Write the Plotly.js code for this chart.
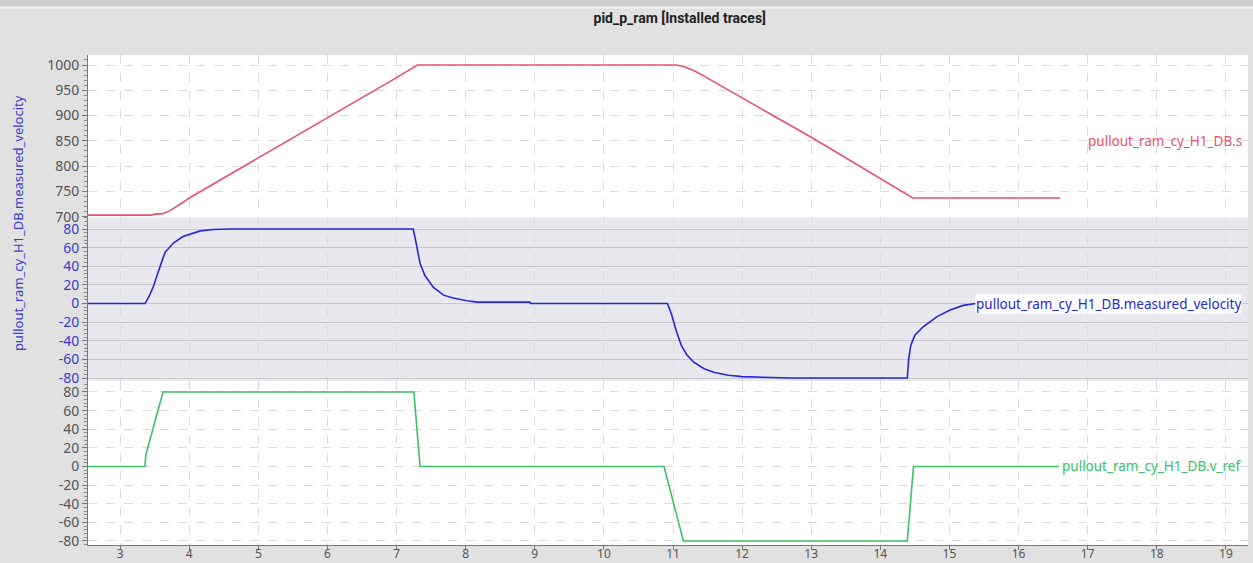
<!DOCTYPE html>
<html>
<head>
<meta charset="utf-8">
<script src="https://cdn.plot.ly/plotly-3.0.1.min.js"></script>
<style>html,body{margin:0;padding:0;background:#e1e1e1;}</style>
</head>
<body>
<div id="chart" style="width:1253px;height:563px;"></div>
<script>
// ---- data ----
const chartTitle = "pid_p_ram [Installed traces]";
const yAxisTitle = "pullout_ram_cy_H1_DB.measured_velocity";
const sName = "pullout_ram_cy_H1_DB.s";
const velName = "pullout_ram_cy_H1_DB.measured_velocity";
const refName = "pullout_ram_cy_H1_DB.v_ref";

const sTime  = [2.53, 3.45, 3.5, 3.62, 3.72, 3.82, 3.92, 4.0, 5.0, 6.0, 7.0, 7.3, 11.05, 11.15, 11.3, 11.45, 11.6, 11.8, 12.0, 13.0, 14.0, 14.47, 16.6];
const sValue = [703, 703, 705, 706, 712, 720, 729, 737, 816, 895, 975, 1000, 1000, 997, 989, 978, 966, 950, 935, 857, 776, 737, 737];

const velTime  = [2.53, 3.36, 3.42, 3.48, 3.56, 3.65, 3.77, 3.91, 4.16, 4.35, 4.6, 7.24, 7.27, 7.31, 7.34, 7.41, 7.53, 7.68, 7.82, 8.02, 8.17, 8.93, 8.94, 10.92, 10.98, 11.05, 11.12, 11.2, 11.3, 11.45, 11.6, 11.8, 12.0, 12.7, 14.39, 14.41, 14.44, 14.5, 14.62, 14.82, 15.01, 15.2, 15.32, 15.38];
const velValue = [0, 0, 8, 18, 36, 55, 65, 72, 78, 79.5, 80, 80, 70, 52, 43, 30, 17.5, 9, 6, 3, 1.5, 1.5, 0, 0, -12, -30, -45, -55, -63, -70, -74, -77, -78.5, -80, -80, -60, -45, -34, -25, -14, -7, -2, -0.5, 0];

const refTime  = [2.53, 3.36, 3.37, 3.62, 7.25, 7.34, 10.87, 11.15, 14.39, 14.48, 16.58];
const refValue = [0, 0, 12, 80, 80, 0, 0, -80, -80, 0, 0];

const xTicks = [3, 4, 5, 6, 7, 8, 9, 10, 11, 12, 13, 14, 15, 16, 17, 18, 19];
const sTicks = [700, 750, 800, 850, 900, 950, 1000];
const vTicks = [-80, -60, -40, -20, 0, 20, 40, 60, 80];

// ---- styles ----
const FONT = "Noto Sans, Open Sans, sans-serif";
const RED = "#e5526f", BLUE = "#2626dc", GREEN = "#3cc06a";
const GRID = "#dcdcdc";

const traces = [
  {x: sTime, y: sValue, name: sName, type: "scatter", mode: "lines", line: {color: RED, width: 1.6}, xaxis: "x", yaxis: "y"},
  {x: velTime, y: velValue, name: velName, type: "scatter", mode: "lines", line: {color: BLUE, width: 1.6}, xaxis: "x", yaxis: "y2"},
  {x: refTime, y: refValue, name: refName, type: "scatter", mode: "lines", line: {color: GREEN, width: 1.6}, xaxis: "x", yaxis: "y3"}
];

function yax(domain, range, ticks, color, gridcolor, griddash) {
  return {
    domain: domain, range: range, tickvals: ticks, ticktext: ticks.map(String),
    showgrid: true, gridcolor: gridcolor, griddash: griddash, gridwidth: 1,
    zeroline: false, showline: true, linecolor: "#777", linewidth: 1,
    ticks: "outside", ticklen: 5, tickcolor: "#777",
    minor: {ticks: "outside", ticklen: 3, tickcolor: "#888", dtick: (ticks[1]-ticks[0])/5, showgrid: false},
    tickfont: {family: FONT, size: 14, color: color},
    fixedrange: true
  };
}

const layout = {
  width: 1253, height: 563,
  margin: {l: 88, r: 5, t: 55, b: 18},
  paper_bgcolor: "#e1e1e1", plot_bgcolor: "#ffffff",
  showlegend: false,
  title: {text: "<b>" + chartTitle + "</b>", x: 0.5425, xanchor: "center", y: 0.968, yanchor: "middle",
          font: {family: "Roboto, sans-serif", size: 14, color: "#222"}},
  xaxis: {
    anchor: "y3", range: [2.535, 19.32], tickvals: xTicks, ticktext: xTicks.map(String),
    showgrid: true, gridcolor: GRID, griddash: "dash", zeroline: false,
    showline: true, linecolor: "#777", ticks: "outside", ticklen: 4, tickcolor: "#777",
    ticklabelstandoff: -6,
    tickfont: {family: FONT, size: 12, color: "#555"}, fixedrange: true
  },
  yaxis: yax([0.6684, 1], [698.4, 1019.8], sTicks, "#555", GRID, "dash"),
  yaxis2: yax([0.3347, 0.6684], [-83.2, 92.4], vTicks, "#3b3bd1", "#c8c8cc", "solid"),
  yaxis3: yax([0, 0.3347], [-84.3, 91.8], vTicks, "#555", GRID, "dash"),
  shapes: [
    {type: "rect", xref: "paper", yref: "y2 domain", x0: 0, x1: 1, y0: 0, y1: 1,
     fillcolor: "#e8e8ee", line: {width: 0}, layer: "below"},
    {type: "rect", xref: "paper", yref: "paper", x0: -0.08, x1: 1.01, y0: 1.097, y1: 1.13,
     fillcolor: "#cfcfcf", line: {width: 0}, layer: "below"},
    {type: "line", xref: "paper", yref: "paper", x0: -0.08, x1: 1.01, y0: 1.097, y1: 1.097,
     line: {color: "#f4f4f4", width: 2}}
  ],
  annotations: [
    {text: sName, xref: "x", yref: "y", x: 16.98, y: 849, xanchor: "left", yanchor: "middle",
     showarrow: false, font: {family: FONT, size: 13.5, color: RED}},
    {text: velName, xref: "x", yref: "y2", x: 15.37, y: 0, xanchor: "left", yanchor: "middle",
     showarrow: false, bgcolor: "#ffffff", borderpad: 0, font: {family: FONT, size: 13.5, color: BLUE}},
    {text: refName, xref: "x", yref: "y3", x: 16.6, y: 0, xanchor: "left", yanchor: "middle",
     showarrow: false, font: {family: FONT, size: 13.5, color: GREEN}},
    {text: yAxisTitle, xref: "paper", yref: "paper", x: -0.0603, y: 0.657, xanchor: "center", yanchor: "middle",
     textangle: -90, showarrow: false, font: {family: FONT, size: 13, color: "#3b3bd1"}}
  ]
};

Plotly.newPlot("chart", traces, layout, {displayModeBar: false, staticPlot: true});
</script>
</body>
</html>
